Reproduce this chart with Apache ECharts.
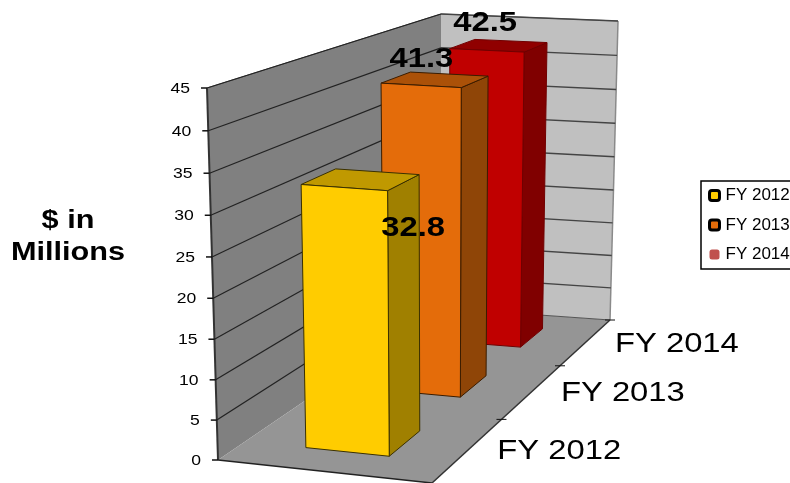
<!DOCTYPE html>
<html><head><meta charset="utf-8">
<style>html,body{margin:0;padding:0;background:#fff}#c{width:790px;height:483px}</style>
<script src="https://cdn.jsdelivr.net/npm/echarts@6/dist/echarts.min.js"></script>
</head><body><div id="c"></div>
<script>
const categories = ['FY 2012', 'FY 2013', 'FY 2014'];
const values = [32.8, 41.3, 42.5];
const yTicks = [0, 5, 10, 15, 20, 25, 30, 35, 40, 45];
const axisTitle = '$ in\nMillions';

const FONT = '"Liberation Sans", Arial, sans-serif';
const STRETCH = 1.17;
const GRID = { left: 218, top: 88, width: 392, height: 371 };
// Corners of the 3D box on screen: [depth][side][height]
const BOX = {
  flb: [218, 460], flt: [207, 88], frb: [432, 483], frt: [432, 102],
  blb: [441, 308], blt: [441, 14], brb: [610, 320], brt: [618, 21]
};
const lerp = (a, b, k) => [a[0] + (b[0] - a[0]) * k, a[1] + (b[1] - a[1]) * k];
const depthOf = t => 1.28 * t / (1 + 0.28 * t);
const heightOf = w => w / (1.04 - 0.04 * w);
function project(u, t, w) {
  const v = depthOf(t), h = heightOf(w);
  const front = lerp(lerp(BOX.flb, BOX.frb, u), lerp(BOX.flt, BOX.frt, u), h);
  const back = lerp(lerp(BOX.blb, BOX.brb, u), lerp(BOX.blt, BOX.brt, u), h);
  return lerp(front, back, v);
}
const fracT = x => (x - GRID.left) / GRID.width;
const fracW = y => (GRID.top + GRID.height - y) / GRID.height;

const BAR_U = [0.29, 0.69], BAR_HALF = 0.068;
const barColors = [
  { front: '#ffcc00', top: '#c09900', side: '#a08000', edge: '#3a3000' },
  { front: '#e46c0a', top: '#ab5108', side: '#8f4507', edge: '#3a1c00' },
  { front: '#c00000', top: '#900000', side: '#800000', edge: '#700000' }
];
const legendStyles = [
  { color: '#ffcc00', borderColor: '#000', borderWidth: 3 },
  { color: '#e46c0a', borderColor: '#000', borderWidth: 3 },
  { color: '#c0504d', borderWidth: 0 }
];
const labelOffsets = [[52, 49], [-14, -20], [-14, -22]];

const poly = (pts, fill, stroke, lw) => ({
  type: 'polygon', shape: { points: pts },
  style: { fill, stroke: stroke || null, lineWidth: lw || 0 }, silent: true
});
const line = (a, b, stroke, lw) => ({
  type: 'line', shape: { x1: a[0], y1: a[1], x2: b[0], y2: b[1] },
  style: { stroke, lineWidth: lw }, silent: true
});
const text = (s, x, y, size, weight, align) => ({
  type: 'text', x, y, scaleX: STRETCH, silent: true,
  style: { text: s, fill: '#000', font: `${weight} ${size}px ${FONT}`, align, verticalAlign: 'middle' }
});

function frameItem() {
  const k = BOX;
  return { type: 'group', children: [
    poly([k.flb, k.blb, k.blt, k.flt], '#808080'),
    poly([k.blb, k.brb, k.brt, k.blt], '#c0c0c0'),
    poly([k.flb, k.frb, k.brb, k.blb], '#959595'),
    line(k.flb, k.flt, '#333', 2),
    line(k.flt, k.blt, '#555', 1),
    line(k.blt, k.brt, '#777', 1),
    line(k.brt, k.brb, '#8a8a8a', 1.5),
    line(k.flb, k.frb, '#222', 1.5),
    line(k.frb, k.brb, '#333', 1.5),
    line(k.blb, k.brb, '#555', 1.2)
  ] };
}
function tickItem(params, api) {
  const val = api.value(1);
  const w = fracW(api.coord([0, val])[1]);
  const a = project(0, 0, w), b = project(0, 1, w), c = project(1, 1, w);
  const kids = [line([a[0] - 6, a[1]], a, '#111', 1.5),
    text(String(val), a[0] - 17, a[1] + 1, 15, 'normal', 'right')];
  if (val > 0) kids.unshift(line(a, b, '#222', 1.2), line(b, c, '#444', 1.4));
  return { type: 'group', children: kids };
}
function catItem(params, api) {
  const i = api.value(0);
  const p = api.coord([i, 0]), band = api.size([1, 0])[0];
  const tickT = fracT(p[0] + band / 2), midT = fracT(p[0]);
  const e = project(1, tickT, 0), m = project(1, midT, 0);
  return { type: 'group', children: [
    line([e[0] - 5, e[1]], [e[0] + 5, e[1]], '#111', 1),
    text(categories[i], m[0] + 29, m[1] + 2, 28, 'normal', 'left')
  ] };
}
function barItem(params, api) {
  const i = api.value(0);
  const p = api.coord([i, api.value(1)]);
  const t = fracT(p[0]), w = fracW(p[1]);
  const t0 = t - BAR_HALF, t1 = t + BAR_HALF, [u0, u1] = BAR_U;
  const c = barColors[i];
  const a = project(u0, t0, 0), b = project(u1, t0, 0), d = project(u1, t1, 0);
  const A = project(u0, t0, w), B = project(u1, t0, w), D = project(u1, t1, w), E = project(u0, t1, w);
  return { type: 'group', children: [
    poly([b, d, D, B], c.side, c.edge, 1),
    poly([A, B, D, E], c.top, c.edge, 1),
    poly([a, b, B, A], c.front, c.edge, 1)
  ] };
}
function labelItem(params, api) {
  const i = api.value(0);
  const p = api.coord([i, api.value(1)]);
  const top = project((BAR_U[0] + BAR_U[1]) / 2, fracT(p[0]), fracW(p[1]));
  const o = labelOffsets[i];
  return text(String(api.value(1).toFixed(1)), top[0] + o[0], top[1] + o[1], 28, 'bold', 'center');
}

const base = { type: 'custom', clip: false, silent: true, animation: false, encode: { x: 0, y: 1 } };
const barSeries = categories.map((name, i) => ({
  ...base, name, renderItem: barItem, data: [[i, values[i]]],
  itemStyle: { color: legendStyles[i].color }
})).reverse();

const chart = echarts.init(document.getElementById('c'), null, { renderer: 'canvas' });
chart.setOption({
  animation: false,
  backgroundColor: '#fff',
  grid: GRID,
  xAxis: { type: 'category', data: categories, show: false },
  yAxis: { type: 'value', min: 0, max: 45, interval: 5, show: false },
  legend: {
    left: 701, top: 181, orient: 'vertical', icon: 'roundRect',
    itemWidth: 10, itemHeight: 10, itemGap: 12.5, padding: [6, 14, 6, 7],
    borderColor: '#000', borderWidth: 1.5, selectedMode: false,
    textStyle: { fontFamily: FONT, fontSize: 17, color: '#000', padding: [0, 0, 0, 1] },
    data: categories.map((name, i) => ({ name, itemStyle: legendStyles[i] }))
  },
  graphic: [{
    type: 'text', x: 68, y: 237, scaleX: 1.18, silent: true,
    style: { text: axisTitle, fill: '#000', font: `bold 26px ${FONT}`, lineHeight: 32, align: 'center', verticalAlign: 'middle' }
  }],
  series: [
    { ...base, name: 'frame', renderItem: frameItem, data: [[0, 0]] },
    { ...base, name: 'ticks', renderItem: tickItem, data: yTicks.map(t => [0, t]) },
    { ...base, name: 'depth', renderItem: catItem, data: categories.map((c, i) => [i, 0]) },
    ...barSeries,
    { ...base, name: 'labels', renderItem: labelItem, data: values.map((v, i) => [i, v]) }
  ]
});
</script></body></html>
